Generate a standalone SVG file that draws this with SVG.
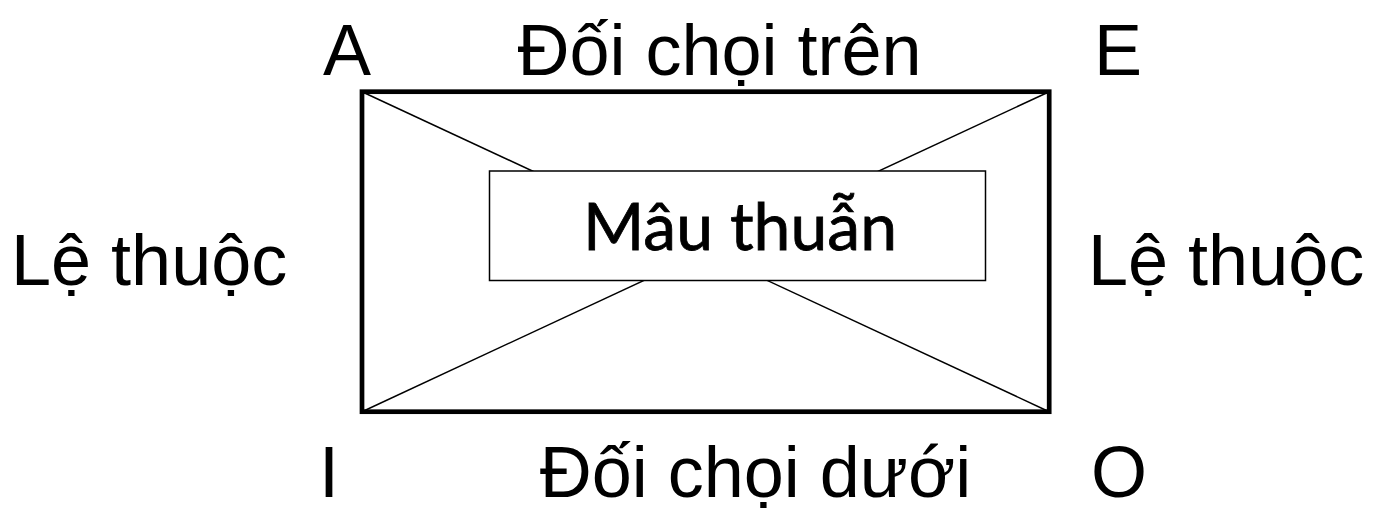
<svg xmlns="http://www.w3.org/2000/svg" width="1389" height="511" viewBox="0 0 1389 511">
<style>
.lbl{font-family:"Liberation Sans",Arial,sans-serif;font-size:72px;fill:#000}
.thin{stroke:#000;stroke-width:1.5;fill:none}
</style>
<rect width="1389" height="511" fill="#fff"/>
<g id="connectors">
<line class="thin" x1="362" y1="91.7" x2="1049.2" y2="411.7"/>
<line class="thin" x1="1049.2" y1="91.7" x2="362" y2="411.7"/>
</g>
<g id="square">
<rect x="362" y="91.7" width="687.2" height="320" fill="none" stroke="#000" stroke-width="4.7"/>
</g>
<g id="center">
<rect x="489.5" y="171" width="496" height="109.5" fill="#fff" stroke="#000" stroke-width="1.5"/>
<text x="740" y="250" text-anchor="middle" font-family="Lato,'Open Sans',sans-serif" font-size="66" stroke="#000" stroke-width="0.8" textLength="314" lengthAdjust="spacingAndGlyphs">Mâu thuẫn</text>
</g>
<g id="corner-A"><text class="lbl" x="323" y="75">A</text></g>
<g id="corner-E"><text class="lbl" x="1094" y="75">E</text></g>
<g id="corner-I"><text class="lbl" x="319" y="497">I</text></g>
<g id="corner-O"><text class="lbl" x="1091" y="497">O</text></g>
<g id="top"><text class="lbl" x="719.5" y="75" text-anchor="middle">Đối chọi trên</text></g>
<g id="bottom"><text class="lbl" x="755.5" y="497" text-anchor="middle">Đối chọi dưới</text></g>
<g id="left"><text class="lbl" x="11" y="285">Lệ thuộc</text></g>
<g id="right"><text class="lbl" x="1088" y="285">Lệ thuộc</text></g>
</svg>
